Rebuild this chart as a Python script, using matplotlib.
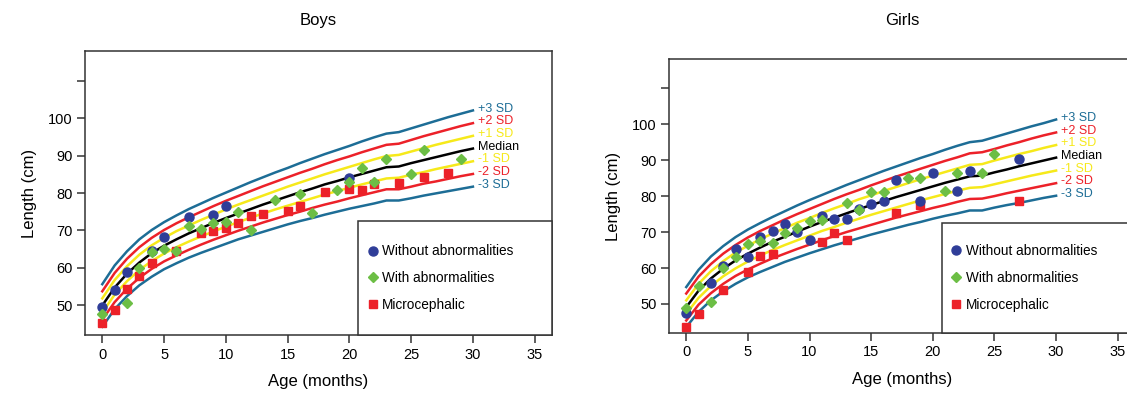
import matplotlib
matplotlib.use("Agg")
import matplotlib.pyplot as plt
from matplotlib.patches import Rectangle
from matplotlib.lines import Line2D

plt.rcParams['font.family'] = ['Liberation Sans', 'DejaVu Sans']

# WHO length-for-age reference (months; from 24 on it is the height table)
meses = list(range(0, 31))

# boys: -3SD, -2SD, -1SD, median, +1SD, +2SD, +3SD
boys_m3 = [44.2, 48.9, 52.4, 55.3, 57.6, 59.6, 61.2, 62.7, 64.0, 65.2, 66.4, 67.6, 68.6, 69.6, 70.6, 71.6,
           72.5, 73.3, 74.2, 75.0, 75.8, 76.5, 77.2, 78.0, 78.0, 78.6, 79.3, 79.9, 80.5, 81.1, 81.7]
boys_m2 = [46.1, 50.8, 54.4, 57.3, 59.7, 61.7, 63.3, 64.8, 66.2, 67.5, 68.7, 69.9, 71.0, 72.1, 73.1, 74.1,
           75.0, 76.0, 76.9, 77.7, 78.6, 79.4, 80.2, 81.0, 81.0, 81.7, 82.5, 83.1, 83.8, 84.5, 85.1]
boys_m1 = [48.0, 52.8, 56.4, 59.4, 61.8, 63.8, 65.5, 67.0, 68.4, 69.7, 71.0, 72.2, 73.4, 74.5, 75.6, 76.6,
           77.6, 78.6, 79.6, 80.5, 81.4, 82.3, 83.1, 83.9, 84.1, 84.9, 85.6, 86.4, 87.1, 87.8, 88.5]
boys_md = [49.9, 54.7, 58.4, 61.4, 63.9, 65.9, 67.6, 69.2, 70.6, 72.0, 73.3, 74.5, 75.7, 76.9, 78.0, 79.1,
           80.2, 81.2, 82.3, 83.2, 84.2, 85.1, 86.0, 86.9, 87.1, 88.0, 88.8, 89.6, 90.4, 91.2, 91.9]
boys_p1 = [51.8, 56.7, 60.4, 63.5, 66.0, 68.0, 69.8, 71.3, 72.8, 74.2, 75.6, 76.9, 78.1, 79.3, 80.5, 81.7,
           82.8, 83.9, 85.0, 86.0, 87.0, 88.0, 89.0, 89.9, 90.2, 91.1, 92.0, 92.9, 93.7, 94.5, 95.3]
boys_p2 = [53.7, 58.6, 62.4, 65.5, 68.0, 70.1, 71.9, 73.5, 75.0, 76.5, 77.9, 79.2, 80.5, 81.8, 83.0, 84.2,
           85.4, 86.5, 87.7, 88.8, 89.8, 90.9, 91.9, 92.9, 93.2, 94.2, 95.2, 96.1, 97.0, 97.9, 98.7]
boys_p3 = [55.6, 60.6, 64.4, 67.6, 70.1, 72.2, 74.0, 75.7, 77.2, 78.7, 80.1, 81.5, 82.9, 84.2, 85.5, 86.7,
           88.0, 89.2, 90.4, 91.5, 92.6, 93.8, 94.9, 95.9, 96.3, 97.3, 98.3, 99.3, 100.3, 101.2, 102.1]

girls_m3 = [43.6, 47.8, 51.0, 53.5, 55.6, 57.4, 58.9, 60.3, 61.7, 62.9, 64.1, 65.2, 66.3, 67.3, 68.3, 69.3,
            70.2, 71.1, 72.0, 72.8, 73.7, 74.5, 75.2, 76.0, 76.0, 76.8, 77.5, 78.1, 78.8, 79.5, 80.1]
girls_m2 = [45.4, 49.8, 53.0, 55.6, 57.8, 59.6, 61.2, 62.7, 64.0, 65.3, 66.5, 67.7, 68.9, 70.0, 71.0, 72.0,
            73.0, 74.0, 74.9, 75.8, 76.7, 77.5, 78.4, 79.2, 79.3, 80.0, 80.8, 81.5, 82.2, 82.9, 83.6]
girls_m1 = [47.3, 51.7, 55.0, 57.7, 59.9, 61.8, 63.5, 65.0, 66.4, 67.7, 69.0, 70.3, 71.4, 72.6, 73.7, 74.8,
            75.8, 76.8, 77.8, 78.8, 79.7, 80.6, 81.5, 82.3, 82.5, 83.3, 84.1, 84.9, 85.7, 86.4, 87.1]
girls_md = [49.1, 53.7, 57.1, 59.8, 62.1, 64.0, 65.7, 67.3, 68.7, 70.1, 71.5, 72.8, 74.0, 75.2, 76.4, 77.5,
            78.6, 79.7, 80.7, 81.7, 82.7, 83.7, 84.6, 85.5, 85.7, 86.6, 87.4, 88.3, 89.1, 89.9, 90.7]
girls_p1 = [51.0, 55.6, 59.1, 61.9, 64.3, 66.2, 68.0, 69.6, 71.1, 72.6, 73.9, 75.3, 76.6, 77.8, 79.1, 80.2,
            81.4, 82.5, 83.6, 84.7, 85.7, 86.7, 87.7, 88.7, 88.9, 89.9, 90.8, 91.7, 92.5, 93.4, 94.2]
girls_p2 = [52.9, 57.6, 61.1, 64.0, 66.4, 68.5, 70.3, 71.9, 73.5, 75.0, 76.4, 77.8, 79.2, 80.5, 81.7, 83.0,
            84.2, 85.4, 86.5, 87.6, 88.7, 89.8, 90.8, 91.9, 92.2, 93.1, 94.1, 95.0, 96.0, 96.9, 97.7]
girls_p3 = [54.7, 59.5, 63.2, 66.1, 68.6, 70.7, 72.5, 74.2, 75.8, 77.4, 78.9, 80.3, 81.7, 83.1, 84.4, 85.7,
            87.0, 88.2, 89.4, 90.6, 91.7, 92.9, 94.0, 95.0, 95.4, 96.4, 97.4, 98.4, 99.4, 100.3, 101.3]

# observed children
boys_sem_x = [0, 1, 2, 4, 5, 7, 9, 10, 20]
boys_sem_y = [49.4, 54.1, 58.8, 64.4, 68.2, 73.7, 74.2, 76.6, 84.0]
boys_com_x = [0, 2, 3, 4, 5, 6, 7, 8, 9, 10, 11, 12, 14, 16, 17, 19, 20, 21, 22, 23, 25, 26, 29]
boys_com_y = [47.7, 50.5, 60.0, 64.1, 65.0, 64.6, 71.3, 70.3, 72.0, 72.3, 75.0, 70.1, 78.1, 79.7, 74.6,
              80.9, 83.0, 86.6, 83.0, 89.1, 85.1, 91.5, 89.1]
boys_mic_x = [0, 1, 2, 3, 4, 6, 8, 9, 10, 11, 12, 13, 15, 16, 18, 20, 21, 22, 24, 26, 28]
boys_mic_y = [45.1, 48.6, 54.4, 57.9, 61.2, 64.4, 69.2, 69.9, 70.7, 71.9, 73.9, 74.4, 75.2, 76.6, 80.4,
              81.0, 80.7, 82.3, 82.6, 84.4, 85.3]

girls_sem_x = [0, 2, 3, 4, 5, 6, 7, 8, 9, 10, 11, 12, 13, 14, 15, 16, 17, 19, 20, 22, 23, 27]
girls_sem_y = [47.6, 55.7, 60.5, 65.2, 63.0, 68.5, 70.3, 72.3, 70.0, 67.9, 74.4, 73.5, 73.5, 76.5, 77.7,
               78.5, 84.5, 78.7, 86.3, 81.5, 87.1, 90.3]
girls_com_x = [0, 1, 2, 3, 4, 5, 6, 7, 8, 9, 10, 11, 13, 14, 15, 16, 18, 19, 21, 22, 24, 25]
girls_com_y = [49.0, 55.0, 50.6, 60.0, 63.1, 66.8, 67.4, 67.0, 69.8, 71.1, 73.0, 73.4, 78.0, 76.0, 81.1,
               81.1, 85.1, 85.0, 81.4, 86.4, 86.4, 91.7]
girls_mic_x = [0, 1, 3, 5, 6, 7, 11, 12, 13, 17, 19, 27]
girls_mic_y = [43.7, 47.2, 53.9, 58.8, 63.4, 64.0, 67.1, 69.8, 67.7, 75.4, 77.5, 78.5]

rotulos = ["+3 SD", "+2 SD", "+1 SD", "Median", "-1 SD", "-2 SD", "-3 SD"]

AZUL = "#1d6d96"
VERMELHO = "#ec2129"
AMARELO = "#f6e91a"
cores = [AZUL, VERMELHO, AMARELO, "black", AMARELO, VERMELHO, AZUL]


def plota_painel(ax, curvas, sem, com, mic, titulo, pad_titulo):
    for (y, c) in zip(curvas, cores):
        ax.plot(meses, y, color=c, linewidth=1.8, zorder=2)

    # labels a direita das curvas
    for (y, c, r) in zip(curvas, cores, rotulos):
        ax.text(30.4, y[-1] + 0.5, r, color=c, fontsize=9, va="center", ha="left")

    ax.plot(sem[0], sem[1], "o", color="#2f3d98", markersize=6.5, linestyle="none", zorder=4)
    ax.plot(com[0], com[1], "D", color="#6cbe45", markersize=5.5, linestyle="none", zorder=4)
    ax.plot(mic[0], mic[1], "s", color="#ec2129", markersize=5.5, linestyle="none", zorder=3)

    ax.set_xlim(-1.4, 36.4)
    ax.set_ylim(42.0, 118.0)
    ax.set_xticks([0, 5, 10, 15, 20, 25, 30, 35])
    ax.set_yticks([50, 60, 70, 80, 90, 100, 110])
    ax.set_yticklabels(["50", "60", "70", "80", "90", "100", ""])
    ax.tick_params(length=6, width=1.1, color="#333333", labelsize=10.5, pad=3)
    for s in ax.spines.values():
        s.set_color("#333333")
        s.set_linewidth(1.1)

    ax.set_xlabel("Age (months)", fontsize=12, labelpad=9)
    ax.set_ylabel("Length (cm)", fontsize=12, labelpad=8)
    ax.set_title(titulo, fontsize=12, pad=pad_titulo)

    # caixa da legenda
    ax.add_patch(Rectangle((0.585, 0.0), 0.415, 0.40, transform=ax.transAxes,
                           facecolor="white", edgecolor="#333333", linewidth=1.1,
                           zorder=5, clip_on=False))
    handles = [Line2D([], [], marker="o", color="#2f3d98", markersize=6.5, linestyle="none"),
               Line2D([], [], marker="D", color="#6cbe45", markersize=5.5, linestyle="none"),
               Line2D([], [], marker="s", color="#ec2129", markersize=5.5, linestyle="none")]
    leg = ax.legend(handles, ["Without abnormalities", "With abnormalities", "Microcephalic"],
                    loc="center left", bbox_to_anchor=(0.578, 0.20), frameon=False,
                    fontsize=9.8, handlelength=0.8, handletextpad=0.3, labelspacing=0.95)
    leg.set_zorder(6)


fig = plt.figure(figsize=(11.27, 4.03), dpi=100)

ax1 = fig.add_axes([0.0754, 0.1687, 0.4144, 0.7047])
plota_painel(ax1,
    [boys_p3, boys_p2, boys_p1, boys_md, boys_m1, boys_m2, boys_m3],
    (boys_sem_x, boys_sem_y),
    (boys_com_x, boys_com_y),
    (boys_mic_x, boys_mic_y),
    "Boys", 19)

ax2 = fig.add_axes([0.5936, 0.1744, 0.4135, 0.678])
plota_painel(ax2,
    [girls_p3, girls_p2, girls_p1, girls_md, girls_m1, girls_m2, girls_m3],
    (girls_sem_x, girls_sem_y),
    (girls_com_x, girls_com_y),
    (girls_mic_x, girls_mic_y),
    "Girls", 25)

fig.savefig("out.png", dpi=100)
